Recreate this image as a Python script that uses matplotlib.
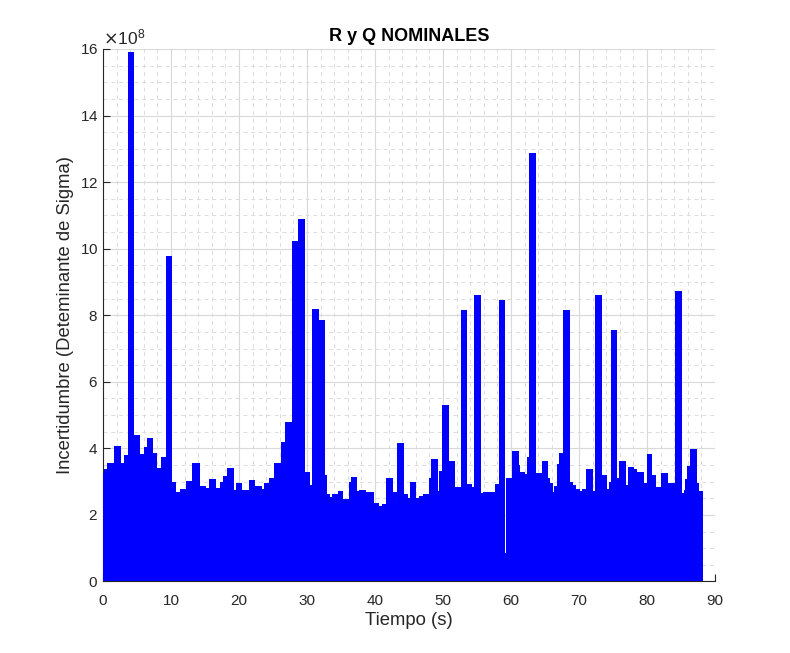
import matplotlib
matplotlib.use("Agg")
import matplotlib.pyplot as plt
from matplotlib.ticker import MultipleLocator, ScalarFormatter

plt.rcParams['font.family'] = ['Liberation Sans', 'DejaVu Sans']

# step edges (s) and envelope level (x1e8)
t_edges = [0.0, 0.1, 0.63, 1.66, 2.65, 3.13, 3.65, 4.6, 5.44, 6.08, 6.4, 7.4,
           7.9, 8.5, 9.2, 10.2, 10.7, 11.3, 12.2, 13.1, 14.2, 15.1, 15.6, 16.6,
           17.2, 17.7, 18.2, 19.2, 19.5, 20.5, 21.4, 22.4, 23.4, 23.7, 24.4,
           25.1, 26.2, 26.7, 27.75, 28.7, 29.7, 30.4, 30.8, 31.7, 32.6, 32.9,
           33.4, 33.7, 34.5, 35.3, 36.2, 36.5, 37.4, 37.6, 38.7, 39.8, 40.0,
           40.6, 41.1, 41.6, 42.6, 43.2, 44.2, 44.9, 45.1, 46.1, 46.4, 47.0,
           47.9, 48.2, 49.2, 49.4, 49.9, 50.9, 51.7, 52.6, 53.6, 54.2, 54.6,
           55.6, 55.9, 56.9, 57.6, 58.2, 59.1, 59.3, 60.2, 61.2, 61.4, 62.0,
           62.3, 62.7, 63.7, 64.5, 65.4, 65.7, 66.2, 66.3, 66.7, 67.0, 67.7,
           68.7, 69.1, 69.5, 70.2, 70.5, 71.1, 72.1, 72.4, 73.4, 74.1, 74.4,
           74.7, 75.6, 75.9, 76.9, 77.2, 78.1, 78.6, 79.6, 80.0, 80.8, 81.4,
           82.1, 83.1, 84.1, 85.1, 85.4, 85.6, 85.9, 86.4, 87.4, 87.6, 88.2]

levels = [3.27, 3.37, 3.55, 4.07, 3.57, 3.80, 15.9, 4.40, 3.83, 4.05, 4.30,
          3.85, 3.40, 3.75, 9.77, 3.00, 2.70, 2.77, 3.02, 3.55, 2.87, 2.80,
          3.08, 2.80, 3.00, 3.17, 3.40, 2.75, 2.97, 2.75, 3.05, 2.87, 2.78,
          2.97, 3.10, 3.55, 4.18, 4.80, 10.22, 10.89, 3.30, 2.90, 8.20, 7.85,
          3.20, 2.63, 2.53, 2.62, 2.73, 2.47, 3.00, 3.15, 2.72, 2.75, 2.70,
          2.37, 2.35, 2.27, 2.33, 3.10, 2.70, 4.15, 2.63, 2.50, 3.00, 2.50,
          2.58, 2.63, 3.10, 3.67, 2.73, 3.33, 5.30, 3.62, 2.83, 8.17, 2.93,
          2.85, 8.60, 2.66, 2.70, 2.68, 2.92, 8.45, 0.87, 3.12, 3.93, 3.50,
          3.30, 3.22, 3.75, 12.87, 3.27, 3.62, 3.10, 2.95, 2.70, 2.87, 3.52,
          3.85, 8.17, 2.98, 2.90, 2.77, 2.72, 2.78, 3.38, 2.72, 8.60, 3.20,
          2.77, 3.00, 7.57, 3.10, 3.62, 2.90, 3.45, 3.38, 3.28, 2.97, 3.83,
          3.20, 2.85, 3.25, 2.95, 8.72, 2.65, 2.75, 3.07, 3.48, 3.97, 2.95,
          2.72]

scale = 1e8
values = [v * scale for v in levels]

fig = plt.figure(figsize=(7.9, 6.53), dpi=100)
ax = fig.add_axes([0.1304, 0.1095, 0.7746, 0.8155])

ax.stairs(values, t_edges, fill=True, color='#0000ff', baseline=0, zorder=3)

ax.set_xlim(0, 90)
ax.set_ylim(0, 16e8)
ax.xaxis.set_major_locator(MultipleLocator(10))
ax.xaxis.set_minor_locator(MultipleLocator(2))
ax.yaxis.set_major_locator(MultipleLocator(2e8))
ax.yaxis.set_minor_locator(MultipleLocator(0.5e8))

fmt = ScalarFormatter(useMathText=True)
fmt.set_powerlimits((8, 8))
ax.yaxis.set_major_formatter(fmt)

ax.grid(which='major', color='#d9d9d9', linewidth=0.8, linestyle='-', zorder=0)
ax.grid(which='minor', color='#dcdcdc', linewidth=0.7, linestyle=(0, (4, 4)), zorder=0)
ax.set_axisbelow(True)

for s in ['top', 'right']:
    ax.spines[s].set_visible(False)
for s in ['left', 'bottom']:
    ax.spines[s].set_color('#262626')
    ax.spines[s].set_linewidth(0.8)

ax.tick_params(which='major', direction='in', length=5, colors='#262626', labelsize=11, width=0.8)
ax.tick_params(axis='x', which='major', pad=9)
ax.tick_params(which='minor', length=0)
ax.yaxis.get_offset_text().set_fontsize(12.5)
ax.yaxis.get_offset_text().set_color('#262626')

ax.set_title("R y Q NOMINALES", fontsize=13, fontweight='bold', color='black')
ax.set_xlabel("Tiempo (s)", fontsize=13.3, color='#262626', labelpad=3)
ax.set_ylabel("Incertidumbre (Deteminante de Sigma)", fontsize=13.3, color='#262626')

fig.savefig("out.png", dpi=100)
